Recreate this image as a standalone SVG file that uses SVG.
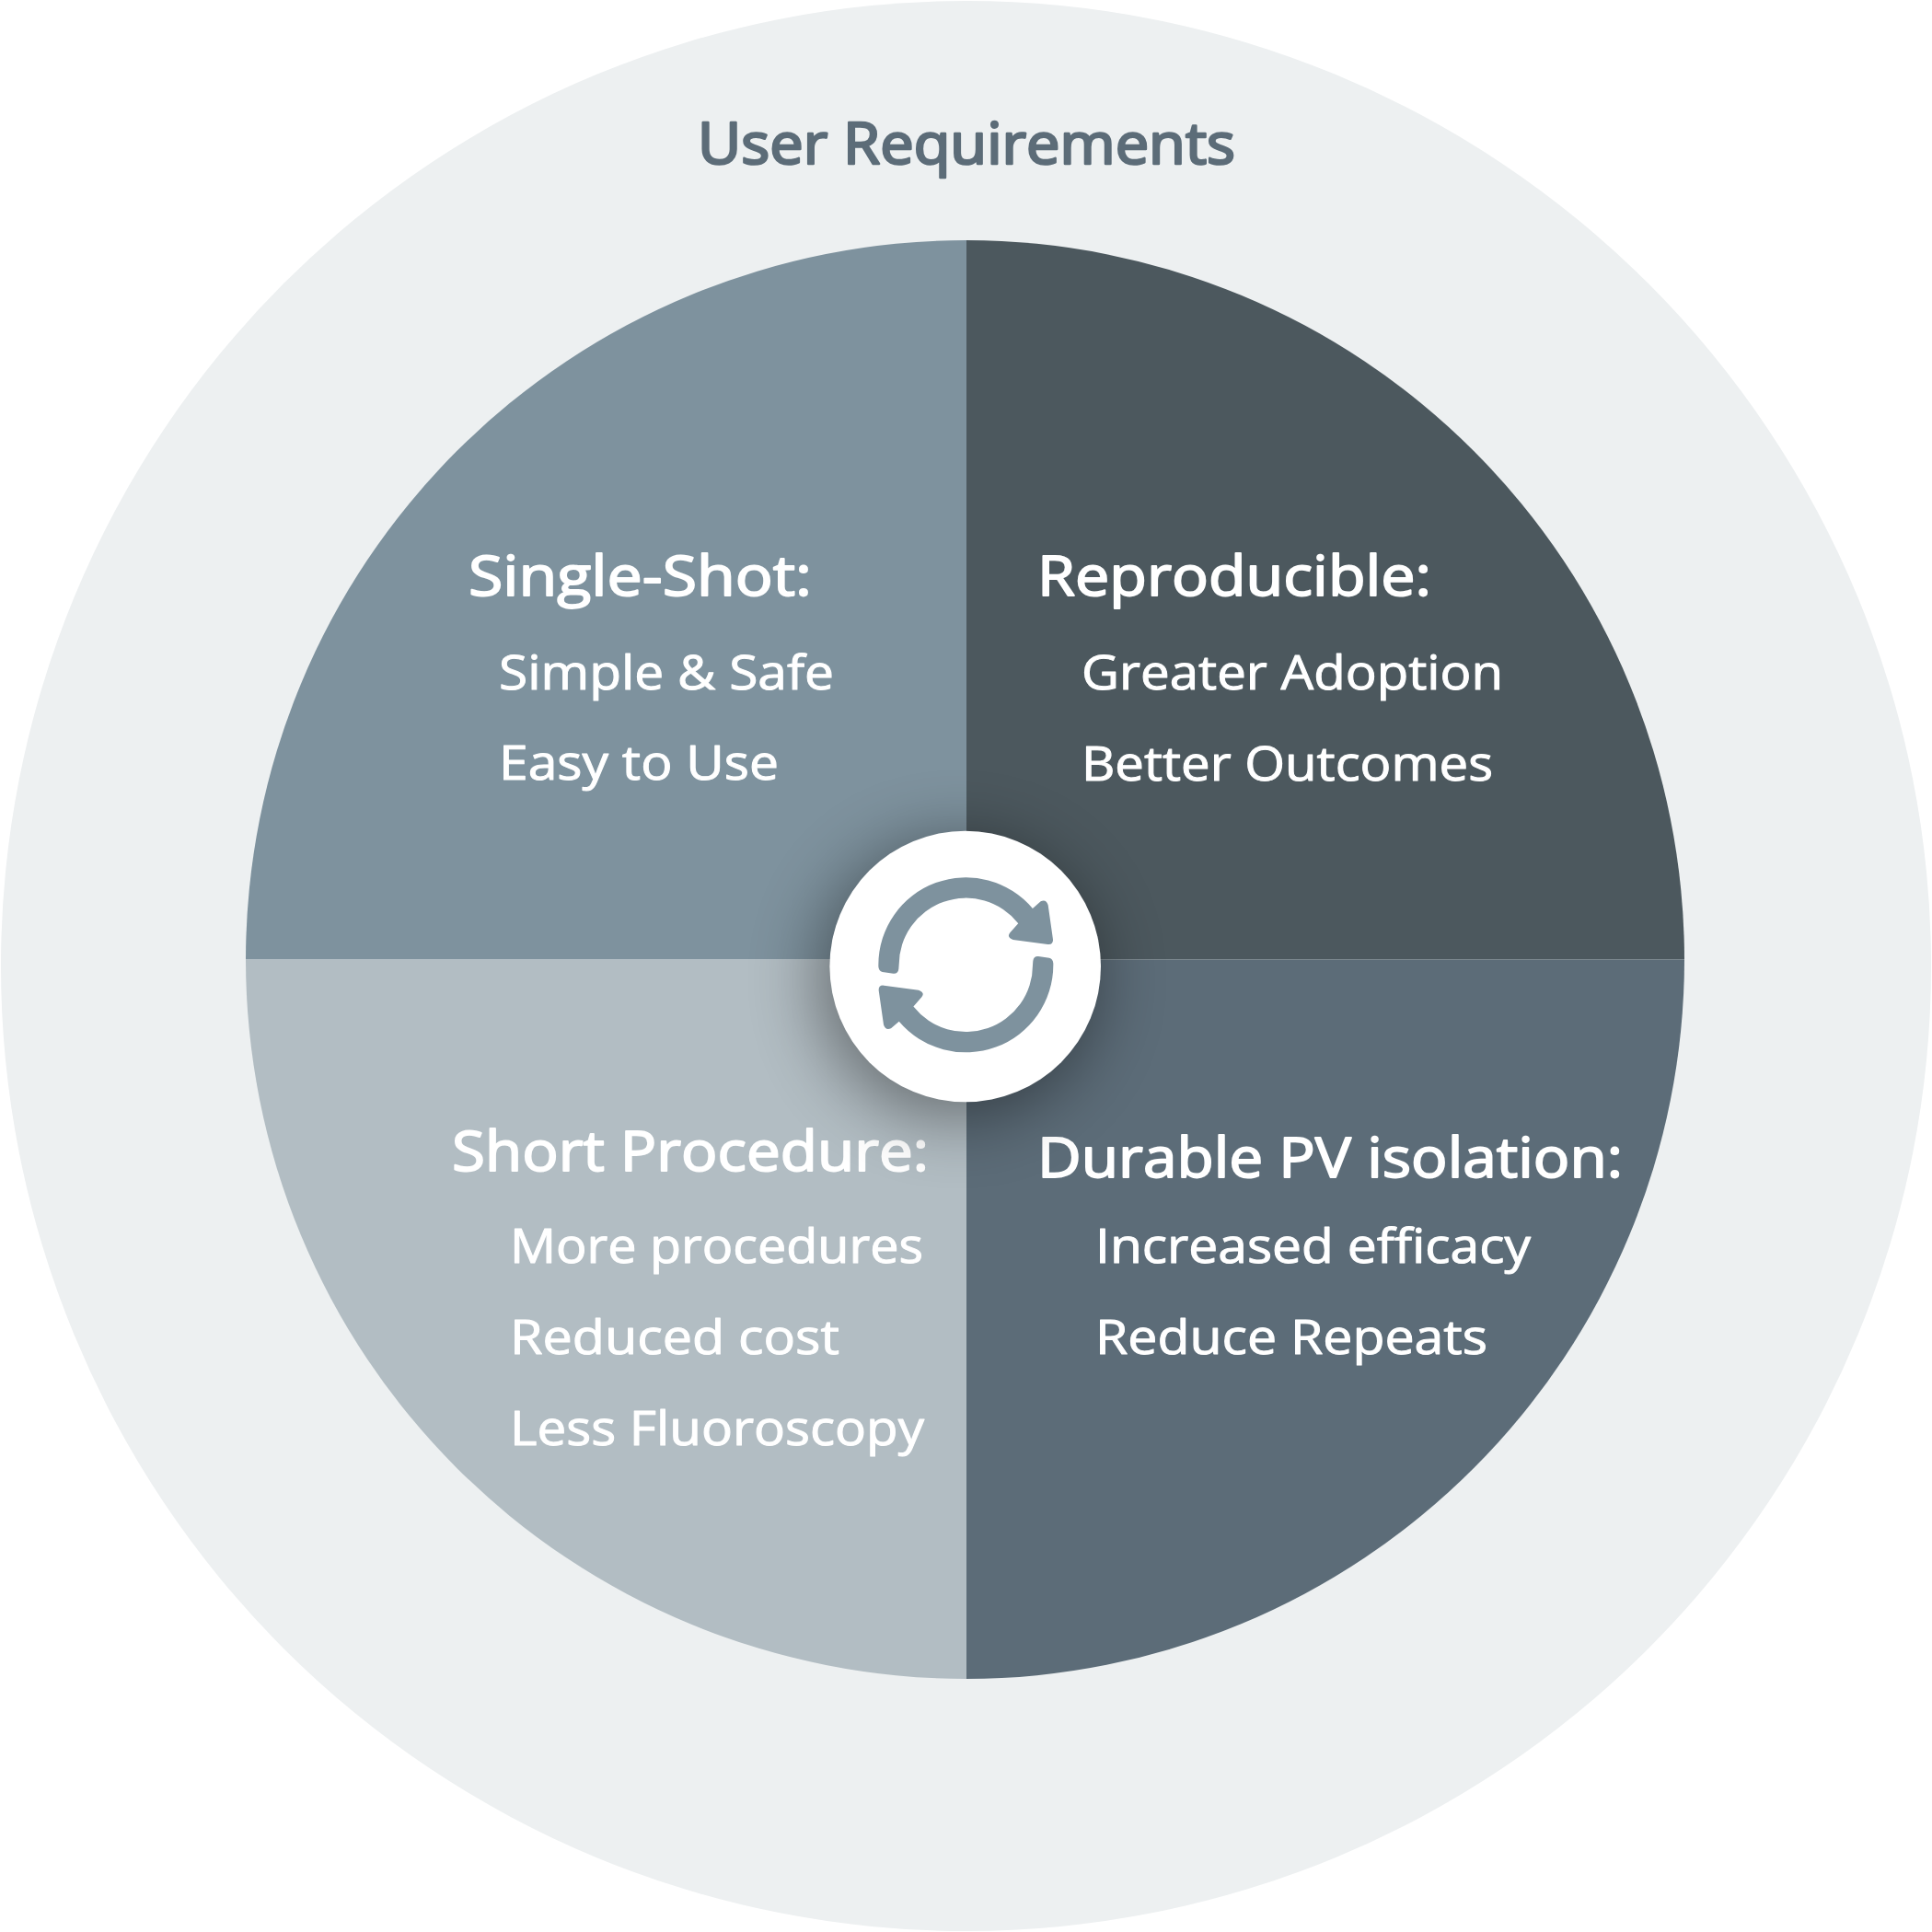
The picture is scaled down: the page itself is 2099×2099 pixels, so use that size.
<svg xmlns="http://www.w3.org/2000/svg" width="2099" height="2099" viewBox="0 0 2099 2099">
<style>
text{font-family:"Open Sans","Noto Sans","Liberation Sans",sans-serif;fill:#fff;stroke:#fff;stroke-linejoin:round;paint-order:stroke}
.t{fill:#5c6c78;stroke:#5c6c78;font-size:62px;stroke-width:2.6}
.h{font-size:60px;stroke-width:1.8}
.i{font-size:51px;stroke-width:1}
</style>
<defs>
<filter id="sh" x="-80%" y="-80%" width="260%" height="260%"><feGaussianBlur stdDeviation="38"/></filter>
<path id="arr" fill="#7e929e" d="M283 565A285 285 0 0 1 785.700 381L812 358Q830 350 836 370L852 482Q853 500 835 498L722 483Q700 475 712 460L738.800 429.400A218 218 0 0 0 350 565L349 578Q347 594 332 593L296 588Q284 585 283 570Z"/>
</defs>
<rect width="2099" height="2099" fill="#fff"/>
<circle id="outer" cx="1049.5" cy="1049.5" r="1048.500" fill="#edf0f1"/>
<g id="user-requirements"><text class="t" x="758" y="178" textLength="584" lengthAdjust="spacingAndGlyphs">User Requirements</text></g>
<g id="single-shot">
<path d="M1050 1042.500H267A783 782 0 0 1 1050 261Z" fill="#7e929e"/>
<text class="h" x="509" y="647" textLength="373" lengthAdjust="spacingAndGlyphs">Single-Shot:</text>
<text class="i" x="542" y="749" textLength="364" lengthAdjust="spacingAndGlyphs">Simple &amp; Safe</text>
<text class="i" x="542" y="847" textLength="304" lengthAdjust="spacingAndGlyphs">Easy to Use</text>
</g>
<g id="reproducible">
<path d="M1050 1042.500V261A781 782 0 0 1 1830 1042.500Z" fill="#4c585e"/>
<text class="h" x="1127" y="647" textLength="428" lengthAdjust="spacingAndGlyphs">Reproducible:</text>
<text class="i" x="1175" y="749" textLength="458" lengthAdjust="spacingAndGlyphs">Greater Adoption</text>
<text class="i" x="1175" y="848" textLength="447" lengthAdjust="spacingAndGlyphs">Better Outcomes</text>
</g>
<g id="short-procedure">
<path d="M1050 1042.500V1824A783 782 0 0 1 267 1042.500Z" fill="#b2bdc3"/>
<text class="h" x="491" y="1272" textLength="518" lengthAdjust="spacingAndGlyphs">Short Procedure:</text>
<text class="i" x="554" y="1372" textLength="449" lengthAdjust="spacingAndGlyphs">More procedures</text>
<text class="i" x="554" y="1471" textLength="358" lengthAdjust="spacingAndGlyphs">Reduced cost</text>
<text class="i" x="554" y="1570" textLength="450" lengthAdjust="spacingAndGlyphs">Less Fluoroscopy</text>
</g>
<g id="durable-pv">
<path d="M1050 1042.500H1830A781 782 0 0 1 1050 1824Z" fill="#5c6c78"/>
<text class="h" x="1127" y="1279" textLength="636" lengthAdjust="spacingAndGlyphs">Durable PV isolation:</text>
<text class="i" x="1190" y="1372" textLength="473" lengthAdjust="spacingAndGlyphs">Increased efficacy</text>
<text class="i" x="1190" y="1471" textLength="426" lengthAdjust="spacingAndGlyphs">Reduce Repeats</text>
</g>
<g id="center">
<circle cx="1040" cy="1064" r="152" fill="#000" opacity=".42" filter="url(#sh)"/>
<circle cx="1048.700" cy="1050" r="147.300" fill="#fff"/>
<g transform="translate(860 860) scale(.33333)">
<use href="#arr"/>
<use href="#arr" transform="rotate(180 568 565)"/>
</g>
</g>
</svg>
